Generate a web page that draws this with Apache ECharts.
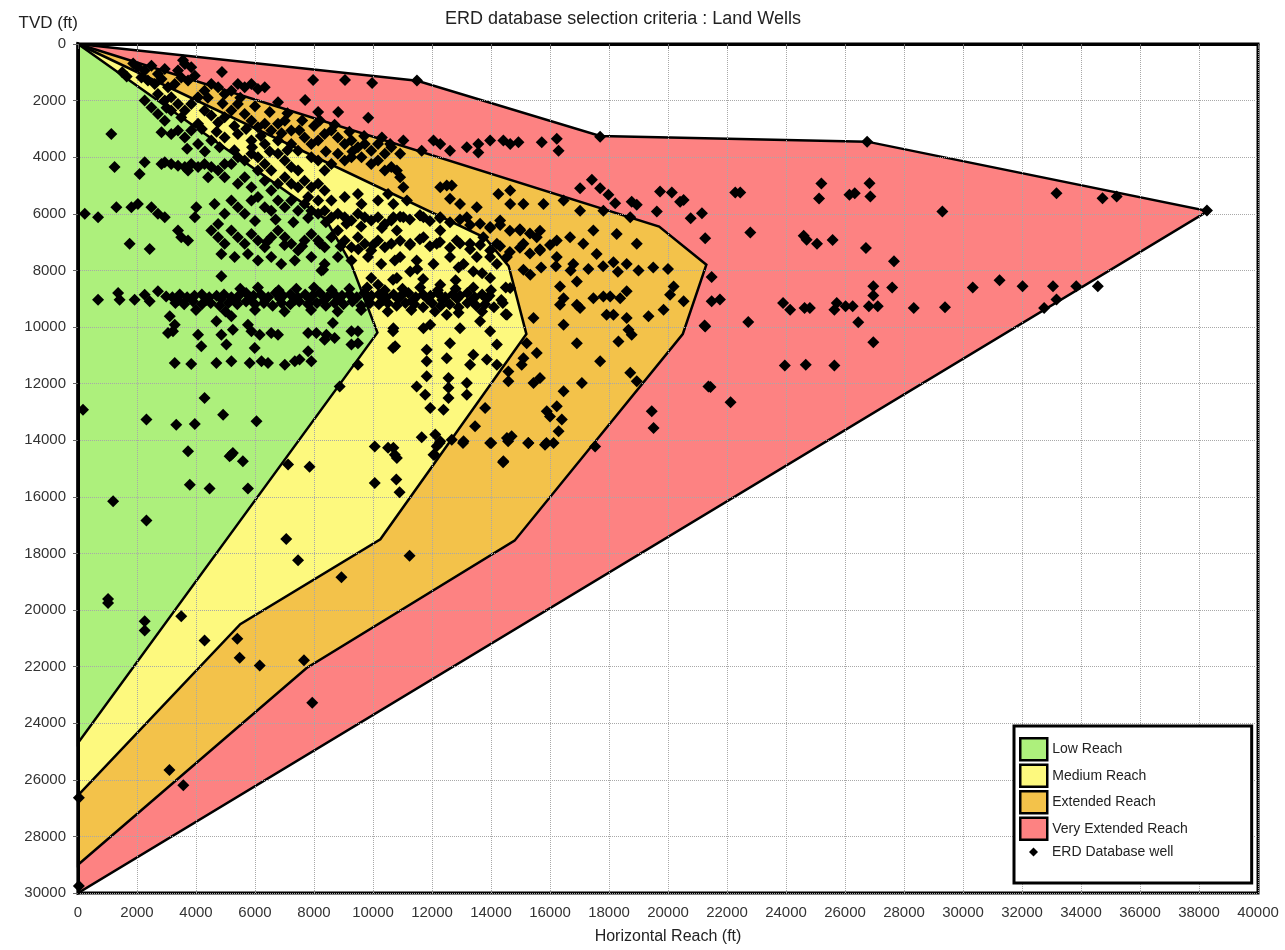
<!DOCTYPE html>
<html>
<head>
<meta charset="utf-8">
<script src="https://cdn.jsdelivr.net/npm/echarts@6/dist/echarts.min.js"></script>
<style>
html,body{margin:0;padding:0;background:#fff;}
#chart{width:1285px;height:950px;}
</style>
</head>
<body>
<div id="chart"></div>
<script>
// ---- Texts / ticks ----
const chartTitle = 'ERD database selection criteria : Land Wells';
const xName = 'Horizontal Reach (ft)';
const yName = 'TVD (ft)';
const xTicks = {min: 0, max: 40000, step: 2000};
const yTicks = {min: 0, max: 30000, step: 2000};
const categories = ['Low Reach', 'Medium Reach', 'Extended Reach', 'Very Extended Reach', 'ERD Database well'];

// ---- Reach envelopes (Horizontal Reach ft, TVD ft) ----
const veryExtendedReach = [[0,0],[11500,1300],[17700,3250],[26750,3450],[38300,5900],[0,30000]];
const extendedReach = [[0,0],[19700,6450],[21300,7800],[20500,10250],[14800,17550],[7750,22050],[0,29000]];
const mediumReach = [[0,0],[13800,6850],[14600,7850],[15200,10250],[10250,17500],[5500,20500],[0,26550]];
const lowReach = [[0,0],[8400,6200],[9250,7750],[10150,10200],[0,24700]];

// ---- ERD database wells ----
const wellsShallow = [
[1500,1000],[1650,1150],[1870,690],
[2030,820],[2260,940],[2490,770],[2710,1060],[2940,880],[2150,1180],[2370,1290],[2600,1410],[2830,1240],[3050,1530],[3390,940],[3620,710],[3840,820],[3500,1180],[3730,1290],[3960,1120],[3280,1410],[2710,1770],[2940,2000],[3160,1880],[2260,2000],[2490,2240],[2710,2470],[2940,2710],[3160,2350],[3390,2120],[3620,2350],[3840,2120],[4070,1880],[4290,1650],[4520,1410],[4750,1530],[4970,1770],[5200,1650],[5420,1410],[5650,1530],[5880,1410],[6100,1590],[6330,1530],[6780,2060],[4290,2350],[4520,2530],[4750,2770],[4970,2590],[5200,2350],[5420,2120],[5650,2470],[5880,2710],[6100,2940],[6330,2820],[6550,3060],[6780,2820],[7010,2710],[7230,3060],[4070,2820],[3840,3060],[3620,3300],[3390,3060],[3160,3180],[2830,3120],[4070,3530],[4520,3410],[4970,3300],[5420,3180],[5880,3410],[6330,3530],[6780,3410],[7230,3530],[7460,3770],[7680,3300],[7910,3530],[8140,3410],[8360,3180],[8590,3060],[8810,3300],[9040,3530],[9270,3410],[9490,3650],[9720,3530],[9940,3770],[10170,3530],[10400,3880],[10620,3650],[7910,4000],[8140,4120],[8360,4470],[8590,4240],[8810,3880],[9040,4120],[9270,4000],[9610,4000],[9940,4240],[10170,4120],[10400,4470],[10620,4350],[6780,3880],[7010,4120],[7230,4350],[7460,4470],[6550,4470],[6330,4240],[6100,4000],[5880,3880],[5650,4120],[5420,4000],[5200,4240],[4970,4240],[4750,4470],[4520,4350],[4290,4240],[4070,4350],[3840,4240],[3620,4350],[3390,4300],[3160,4240],[2940,4180],[2830,4240],[3730,4470],[4410,4710],[4970,4710],[5650,4710],[5420,4940],[6100,4470],[6330,4830],[6780,4940],[7010,4710],[7230,4940],[7680,4830],[8140,4940],[1130,3180],[1240,4350],[2090,4590],[2260,4180],
[3000,2250],[3500,2600],[4200,3000],[4700,3100],[5300,2900],[5700,3000],[6200,3250],[6900,3150],[7500,3050],[8000,2900],[4400,1900],[4900,2100],[5500,1900],[6000,2200],[6500,2400],[7100,2450],[7600,2700],[8200,2700],[8700,2850],[9200,3100],[9700,3250],[10300,3300],[3700,3700],[4300,3800],[4800,3650],[5300,3750],[5900,3650],[6500,3800],[7100,3750],[8400,3800],[9300,3800],
[3560,570],[4880,990],[7970,1270],[9050,1270],[9970,1380],[11490,1290],[7700,1980],[8820,2400],[8140,2400],[9840,2610],[17700,3280],[26750,3450],
[10580,3530],[11030,3410],[12050,3410],[12280,3530],[12610,3770],[13180,3650],[13570,3530],[13570,3830],[13970,3410],[14420,3410],[14650,3530],[14930,3470],[15720,3470],[16230,3350],[16290,3770],[11650,3770],[10920,3880],[10810,4470]
];
const wellsMid = [
[1300,5770],[1810,5770],[2030,5650],[2490,5770],[2710,6000],[2940,6120],[230,6000],[680,6120],[1750,7060],[2430,7240],[3390,6590],[3500,6830],[3730,6940],[3960,6120],[4010,5770],[4630,5650],[4750,6360],[4970,6000],[5200,5530],[5420,5770],[5650,6000],[5880,5530],[6100,5410],[6330,5770],[6550,5890],[6780,5530],[7010,5770],[7230,5530],[7460,5890],[7680,5650],[7910,5890],[8140,6000],[8360,5890],[8590,6120],[8810,6000],[9040,6120],[9270,6240],[9490,6000],[9720,6120],[9940,6240],[10170,6120],[10400,6360],[10620,6240],[4520,6590],[4750,6830],[4970,7060],[5200,6590],[5420,6830],[5650,7060],[5880,6710],[6100,6940],[6330,7180],[6550,6830],[6780,6590],[7010,6830],[7230,7060],[7460,7300],[7680,6940],[7910,6710],[8140,6940],[8360,7180],[8590,6830],[8810,6590],[9040,6940],[9270,7180],[9490,6830],[9720,7060],[9940,7300],[10170,6940],[10400,7180],[10620,7060],[4860,7420],[5310,7530],[5760,7420],[6100,7650],[6550,7530],[6890,7770],[7350,7650],[7910,7530],[8360,7770],[8810,7530],[9270,7650],[9830,7530],[10280,7770],[10740,7650],[8250,8000],
[5880,5060],[6550,5180],[7460,5060],[7910,5060],[8360,5180],[7800,5410],[8140,5530],[8590,5530],[9040,5410],[9490,5300],[9610,5650],[10170,5530],[10510,5300],
[6000,6250],[6700,6200],[7300,6300],[7800,6150],[8400,6300],[9100,6350],[9600,6450],[10300,6500],[6400,7000],[7000,7100],[7600,7150],[8200,7050],[8900,7150],[9500,7250],[10000,7100],
[10920,6100],[11250,6200],[11590,6050],[11930,6250],[12270,6150],[12610,6300],[12950,6200],[13290,6400],[13630,6350],[13970,6500],[14310,6400],[14640,6600],[14980,6550],[15320,6700],[15660,6600],
[10920,6950],[11250,7100],[11590,6900],[11930,7150],[12270,7000],[12610,7200],[12950,7050],[13290,7250],[13630,7100],[13970,7300],[14310,7150],[14640,7350],[14980,7200],[15320,7400],[15660,7250],[16000,7100],
[10690,6120],[11030,6120],[11600,6060],[10810,6590],[11260,7060],[11710,6830],[12160,7060],[12280,6590],[12840,6940],[13290,7060],[13520,7530],[13070,7770],[12610,7530],[12050,7770],[11480,7650],[10920,7530],[13970,7530],[14200,7770],[13740,6830],[11150,5530],[10690,5650],
[12280,5060],[12500,5000],[12670,5000],[12610,5470],[12950,5650],[13520,5770],[14250,5300],[14650,5180],[14650,5650],[15100,5650],[15780,5650],[16460,5530],[10920,4710],[11030,5060],[11710,6120],[12280,6120],[13180,6120],[13970,6470],[14310,6240],[14990,6590],[15550,6830],[16230,6940],[16680,6830],[17130,7060],[17580,7420],[17470,6590],[17020,5890],[18260,6710],[18600,7770],[18150,7710],[18940,7060],[18720,6120],[17810,5890],[16790,7770],[16230,7530],[15660,7300],[15100,7060],[14540,7530],[14200,7060]
];
const wellsBand = [
[680,9040],[1360,8800],[1410,9040],[1920,9040],[2260,8860],[2430,9090],[2710,8740],[2990,8920],[4860,8210],[8310,7980],
[3200,8950],[3450,8850],[3700,8950],[3950,8900],[4200,8850],[4450,8950],[4700,8900],[4950,8850],[5200,8950],[5450,8900],[5700,8800],[5950,8900],[6200,8850],[6450,8950],[6700,8800],[6950,8900],[7200,8850],[7450,8950],[7700,8850],[7950,8900],[8200,8800],[8450,8950],[8700,8850],[8950,8900],[9200,8850],[9450,8950],[9700,8800],[9950,8900],[10200,8850],[10450,8950],[10700,8850],[10950,8900],[11200,8800],[11450,8950],[11700,8850],[11950,8900],[12200,8800],[12450,8950],[12700,8850],[12950,8900],[13200,8800],[13450,8950],[13700,8850],[13950,8900],
[3300,9150],[3600,9200],[3900,9100],[4200,9200],[4500,9150],[4800,9250],[5100,9150],[5400,9200],[5700,9100],[6000,9200],[6300,9150],[6600,9250],[6900,9150],[7200,9200],[7500,9100],[7800,9200],[8100,9150],[8400,9250],[8700,9150],[9000,9200],[9300,9100],[9600,9250],[9900,9150],[10200,9200],[10500,9150],[10800,9250],[11100,9150],[11400,9200],[11700,9300],[12000,9150],[12300,9250],[12600,9200],[12900,9300],[13200,9150],[13500,9250],[13800,9200],[14100,9300],[14400,9150],
[3400,9050],[3850,9000],[4350,9050],[4850,9000],[5350,9050],[5850,9000],[6350,9050],[6850,9000],[7350,9050],[7850,9000],[8350,9050],[8850,9000],[9350,9050],[9850,9000],[10350,9050],[10850,9000],[11350,9050],[11850,9000],[12350,9050],[12850,9000],[13350,9050],[13850,9000],[14350,9050],
[5500,8650],[6100,8600],[6800,8700],[7400,8650],[8000,8600],[8600,8700],[9200,8650],[9800,8600],[10400,8700],[11000,8650],[11600,8600],[12200,8700],[12800,8650],[13400,8600],[14000,8700],[14500,8600],
[4000,9400],[5000,9450],[6000,9400],[7000,9450],[7900,9400],[8800,9450],[9600,9400],[10500,9450],[11300,9400],[12100,9450],[12900,9500],[13700,9450],[14500,9550],
[10810,8270],[11260,8040],[12280,8510],[13400,8040],[13970,8270],[14650,8620],[14540,9570],[12500,9570],[11940,9920],[10690,10040],[13630,9800],[11710,10040],[12950,10040],[13970,10150],
[9940,8270],[10170,8510],[10680,8330],[11700,8300],[12800,8350],[12900,7900],[13700,8100],[11500,7950],
[15100,7980],[15330,8150],[16340,8570],[16460,8980],[16910,8390],[17020,9330],[17470,8980],[17810,8920],[18040,8920],[18380,8980],[18600,8740],[17920,9570],[18150,9570],[18600,9680],[19340,9620],[19850,9390],[20070,8860],[20190,8570],[20530,9090],[16460,9920],[15440,9680],[16340,9210],[16910,9210],
[15700,7900],[16200,7850],[16700,8000],[17300,7950],[17800,7850],[18300,8050],[19000,8000],[19500,7900],[20000,7950]
];
const wellsDeep = [
[3110,9620],[3280,9920],[3050,10210],[3220,10150],[4070,10270],[4180,10680],[4690,9800],[4860,10270],[5030,10620],[5200,9620],[5250,10100],[5760,9920],[5880,10150],[5990,10740],[6160,10270],[6550,10210],[6780,10270],[7010,11330],[7350,11210],[7510,11150],[7800,10860],[7910,11210],[7800,10210],[8080,10210],[8360,10450],[8420,10270],[8700,10390],[8640,9860],[9270,10150],[9490,10150],[9270,10620],[9490,10570],[3280,11270],[3840,11310],[4690,11270],[5200,11210],[5820,11270],[6220,11210],[6440,11270],[9490,11330],[8870,12100],[4290,12510],[170,12920],[2320,13270],[3330,13450],[3960,13430],[4920,13100],[6050,13330],[3730,14390],[5140,14570],[5250,14450],[5590,14740],[7120,14860],[7850,14940],[3790,15570],[4460,15710],[5760,15710],[10680,10150],[10680,10740],
[10750,10680],[14200,10620],[12610,10570],[11820,10800],[11820,11210],[12500,11100],[13400,10980],[13860,11150],[14200,11330],[13290,11330],[11820,11740],[12560,11800],[12560,12150],[11480,12100],[11770,12390],[12560,12510],[13180,11980],[13180,12390],[11940,12860],[12390,12920],[11650,13900],[12110,13800],[12280,14040],[12670,13980],[10690,14270],[10810,14630],[12050,14510],[12160,14210],
[16910,10570],[18320,10510],[18660,10100],[18770,10270],[17700,11210],[15210,10570],[15550,10920],[15100,11100],[15040,11330],[14590,11570],[14590,11920],[15440,11980],[15660,11800],[17080,11980],[16460,12270],[15890,12980],[16000,13160],[16230,12800],[16400,13270],[16290,13680],[18720,11620],[18940,11920],[13800,12860],[13460,13510],[13970,14100],[14540,13920],[14700,13860],[15270,14100],[15830,14160],[16120,14100],[13070,14040],[14420,14740],[17530,14220],[21260,9980],[21370,12100],
[19450,12980],[19510,13570],
[5200,14510],[1190,16160],[2320,16840],[1020,19610],[1020,19750],[2260,20400],[2260,20720],[3500,20220],[4290,21080],[10060,14220],[10510,14270],[10740,14510],[10060,15510],[10790,15390],[10900,15840],[12090,14510],[12260,14100],[13050,14100],[14010,14100],[14580,14040],[15260,14100],[14410,14780],[15880,14100],[7060,17490],[7460,18240],[8930,18840],[11240,18080],[5400,21020],[5480,21690],[6160,21960],[7660,21780],[7940,23280],[3100,25650],[3570,26190],[30,26630],[30,29750]
];
const wellsFar = [
[17020,5100],[17420,4800],[17700,5100],[17980,5330],[18210,5630],[18770,5570],[18940,5680],[19730,5210],[20130,5250],[20410,5570],[20530,5510],[19620,5920],[21150,5980],[20770,6160],[21260,6860],[22280,5250],[22450,5250],[22790,6660],[25200,4930],[25120,5460],[26150,5330],[26330,5270],[26830,4920],[26860,5390],[24600,6780],[24700,6920],[25050,7060],[25580,6930],[26710,7210],[29300,5920],[33170,5270],[34730,5450],[35210,5390],[38270,5880],
[21480,8230],[21480,9090],[21760,9030],[23900,9150],[24140,9390],[24630,9330],[24810,9330],[25720,9150],[25640,9390],[26020,9270],[26260,9270],[26810,9270],[27110,9270],[26960,8560],[26960,8890],[27600,8600],[27660,7680],[28330,9330],[29390,9300],[30330,8600],[31240,8350],[32020,8560],[33050,8560],[33840,8560],[34570,8560],[32750,9330],[33170,9030],[21240,9950],[22720,9820],[26450,9830],[26960,10540],[23960,11360],[24670,11330],[25640,11360],[21440,12120],[22120,12660]
];
const wells = [].concat(wellsShallow, wellsMid, wellsBand, wellsDeep, wellsFar);

// ---- colours ----
const colors = {low:'#adf07c', medium:'#fdf97e', extended:'#f3c24a', veryExtended:'#fd8282'};
const FONT = '"Liberation Sans", Arial, sans-serif';

function envelope(name, pts, color) {
  return {
    type: 'custom', name: name, z: 1, silent: true,
    itemStyle: {color: color},
    data: [[0, 0]],
    renderItem: function (params, api) {
      return {
        type: 'polygon',
        shape: {points: pts.map(function (p) { return api.coord(p); })},
        style: {fill: color, stroke: '#000', lineWidth: 2.5, lineJoin: 'miter'}
      };
    }
  };
}

const chart = echarts.init(document.getElementById('chart'), null, {renderer: 'canvas'});
const swatch = function (c) { return {color: c, borderColor: '#000', borderWidth: 2.5}; };
const plain = function (v) { return String(v); };

chart.setOption({
  animation: false,
  backgroundColor: '#fff',
  title: {
    text: chartTitle, left: 618, top: 5, textAlign: 'center',
    textStyle: {fontFamily: FONT, fontSize: 18, fontWeight: 'normal', color: '#222'}
  },
  grid: {left: 78, right: 27, top: 44, bottom: 56, show: true, borderColor: '#000', borderWidth: 3, backgroundColor: 'transparent'},
  legend: [{
    orient: 'vertical', left: 1014, top: 726, selectedMode: false, z: 4,
    itemWidth: 27, itemHeight: 22, itemGap: 2,
    padding: [11, 64, 42, 5],
    backgroundColor: '#fff', borderColor: '#000', borderWidth: 3,
    textStyle: {fontFamily: FONT, fontSize: 14, color: '#222'},
    data: [
      {name: categories[0], icon: 'rect', itemStyle: swatch(colors.low)},
      {name: categories[1], icon: 'rect', itemStyle: swatch(colors.medium)},
      {name: categories[2], icon: 'rect', itemStyle: swatch(colors.extended)},
      {name: categories[3], icon: 'rect', itemStyle: swatch(colors.veryExtended)}
    ]
  }, {
    orient: 'vertical', left: 1029, top: 845, selectedMode: false, z: 6,
    itemWidth: 9, itemHeight: 9, padding: 0,
    textStyle: {fontFamily: FONT, fontSize: 14, color: '#222', padding: [0, 0, 0, 9]},
    data: [{name: categories[4], icon: 'diamond', itemStyle: {color: '#000', borderWidth: 0}}]
  }],
  xAxis: {
    type: 'value', min: xTicks.min, max: xTicks.max, interval: xTicks.step, z: 3,
    name: xName, nameLocation: 'middle', nameGap: 36,
    nameTextStyle: {fontFamily: FONT, fontSize: 16, color: '#222'},
    axisLine: {show: true, lineStyle: {color: '#000', width: 3}},
    axisTick: {show: true, length: 5, lineStyle: {color: '#666'}},
    axisLabel: {fontFamily: FONT, fontSize: 15, color: '#333', margin: 12, formatter: plain},
    splitLine: {show: true, lineStyle: {color: '#a8a8a8', type: 'dotted', width: 1}}
  },
  yAxis: {
    type: 'value', inverse: true, min: yTicks.min, max: yTicks.max, interval: yTicks.step, z: 3,
    name: yName, nameLocation: 'start', nameGap: 12,
    nameTextStyle: {fontFamily: FONT, fontSize: 17, color: '#222', align: 'right', verticalAlign: 'bottom'},
    axisLine: {show: true, lineStyle: {color: '#000', width: 3}},
    axisTick: {show: true, length: 5, lineStyle: {color: '#666'}},
    axisLabel: {fontFamily: FONT, fontSize: 15, color: '#333', margin: 12, formatter: plain},
    splitLine: {show: true, lineStyle: {color: '#a8a8a8', type: 'dotted', width: 1}}
  },
  series: [
    envelope(categories[3], veryExtendedReach, colors.veryExtended),
    envelope(categories[2], extendedReach, colors.extended),
    envelope(categories[1], mediumReach, colors.medium),
    envelope(categories[0], lowReach, colors.low),
    {
      type: 'scatter', name: categories[4], z: 5, silent: true,
      symbol: 'diamond', symbolSize: 12,
      itemStyle: {color: '#000', opacity: 1},
      data: wells
    }
  ]
});
</script>
</body>
</html>
